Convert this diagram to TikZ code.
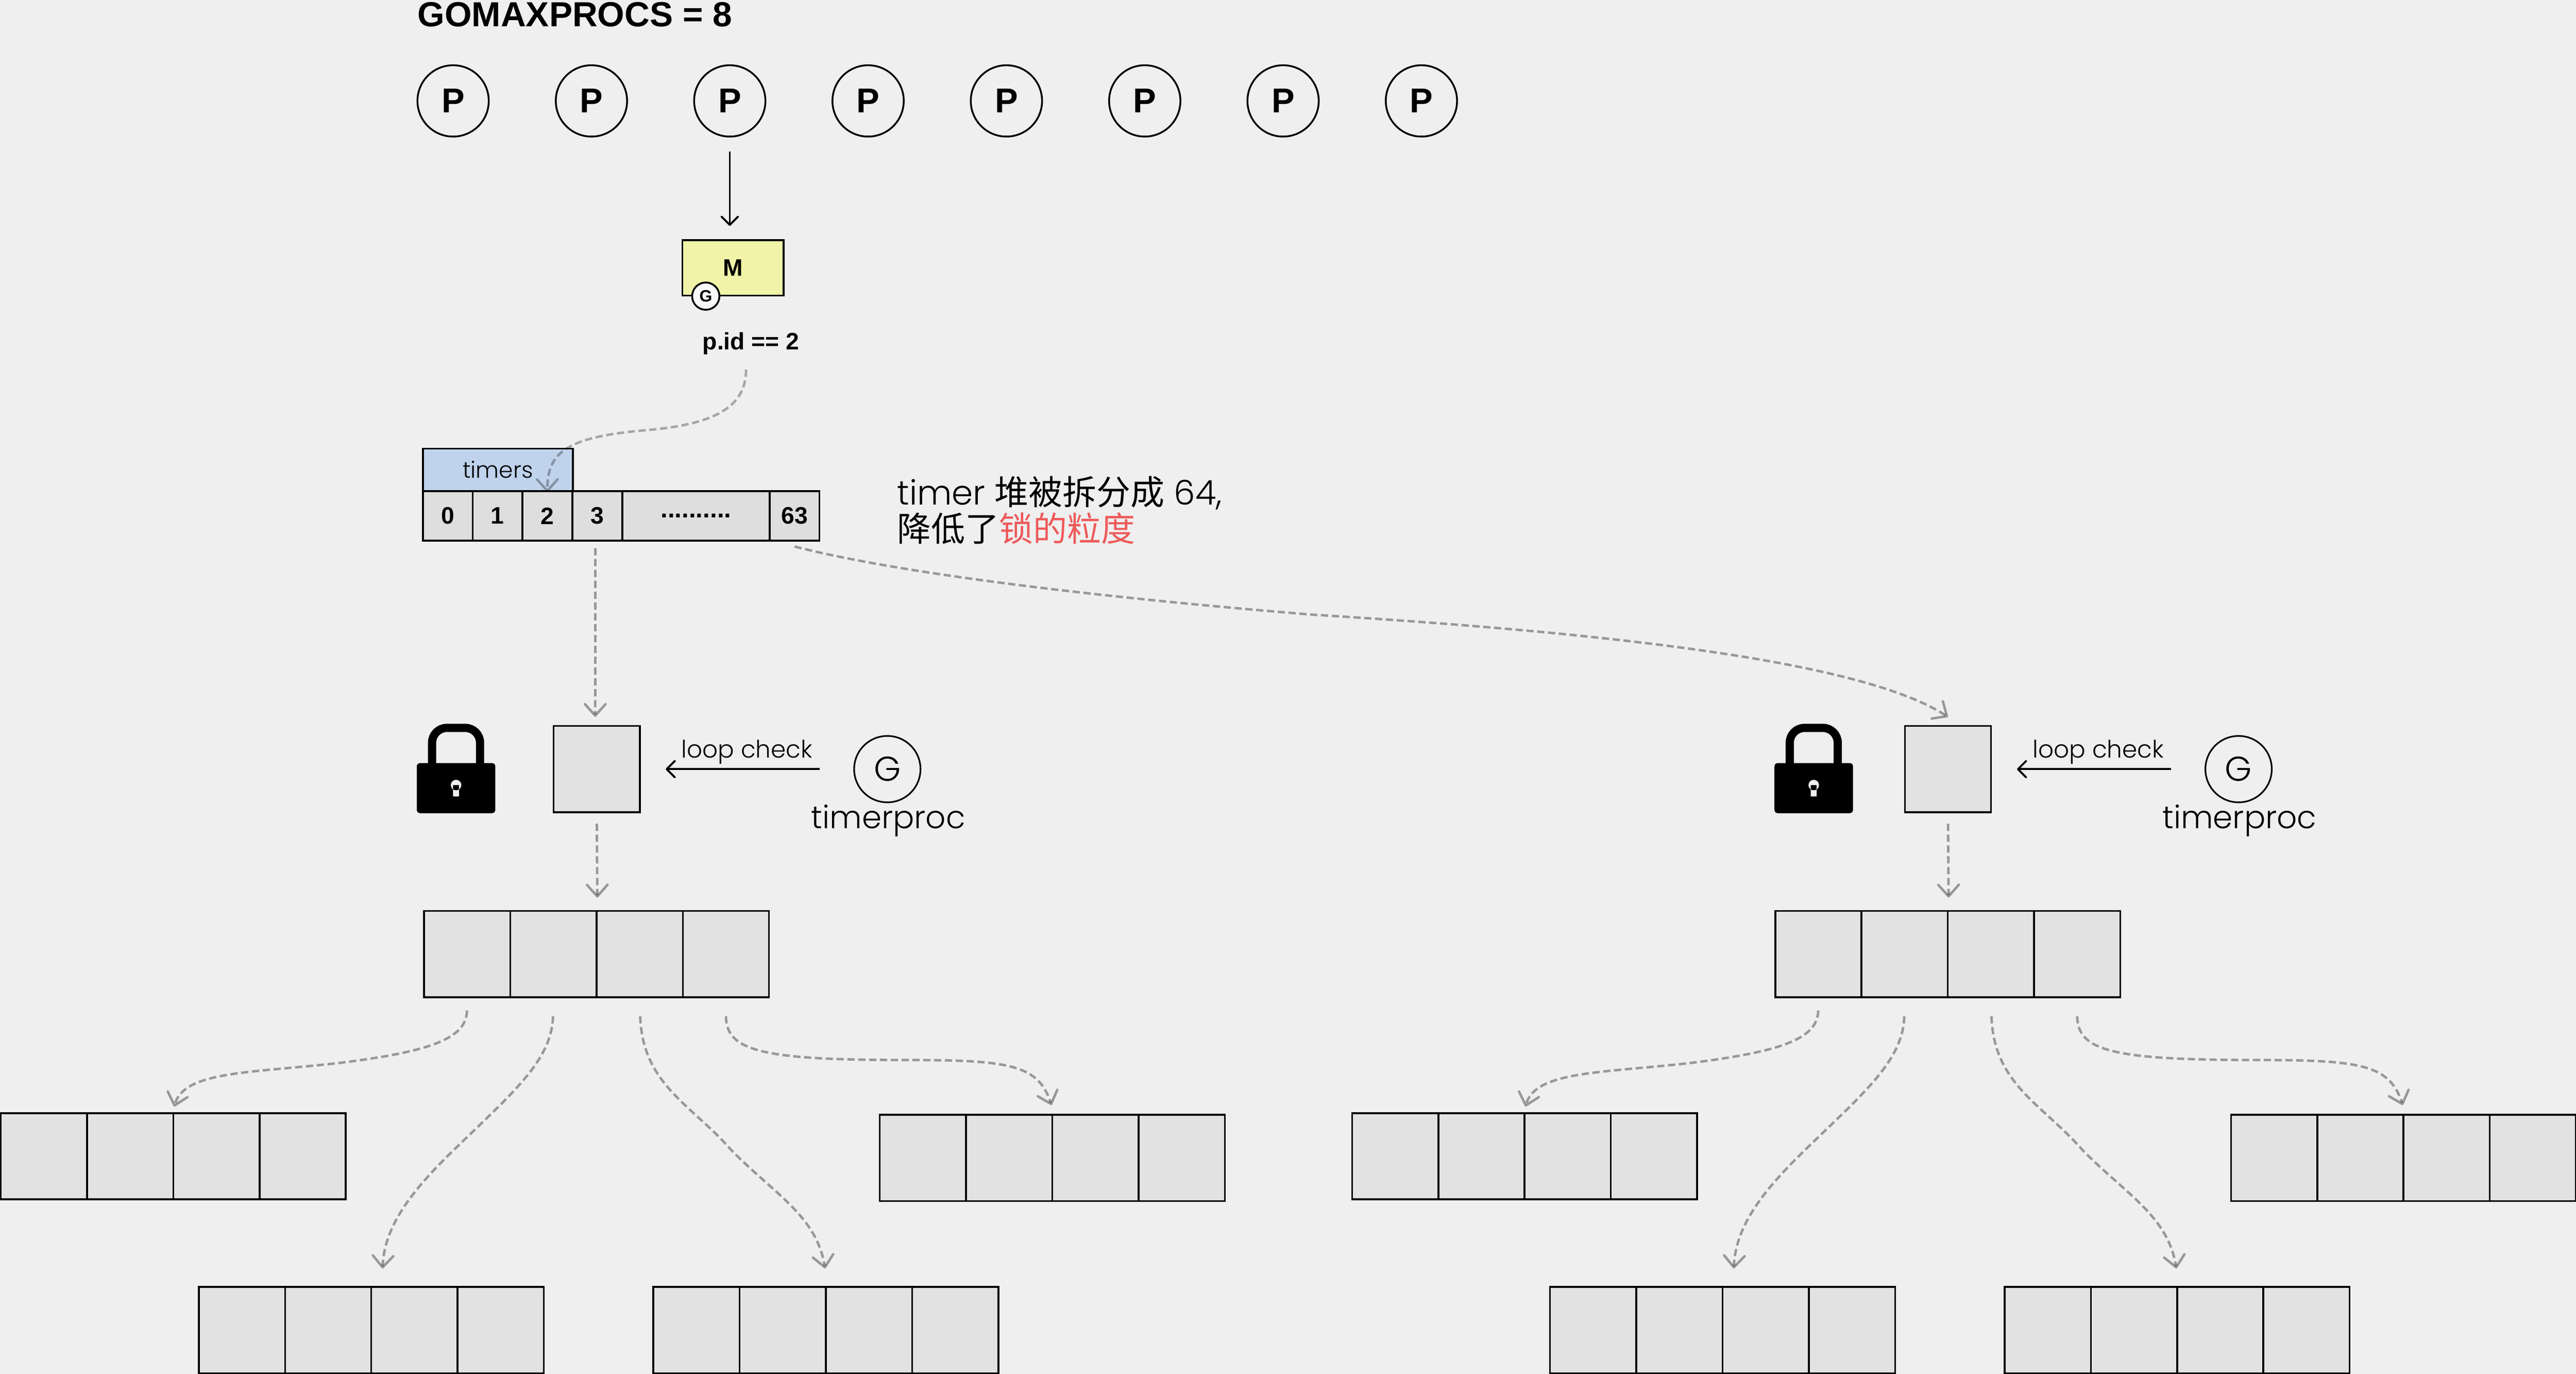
\documentclass[tikz,border=0pt]{standalone}
\usepackage{fontspec}
\setmainfont{Liberation Sans}
\newfontfamily\lightfont[UprightFont=* Light]{Poppins}
\newfontfamily\cjk{Noto Sans CJK SC}
\usepackage{xcolor}
\usetikzlibrary{
    calc,
    arrows.meta
}
\definecolor{pagebg}{HTML}{EFEFEF}
\definecolor{mfill}{HTML}{F0F3A8}
\definecolor{timersfill}{HTML}{C0D3EC}
\definecolor{idxfill}{HTML}{DEDEDE}
\definecolor{heapfill}{HTML}{E2E2E2}
\definecolor{lockred}{HTML}{EE5A5A}
\tikzset{
    pnode/.style={draw,circle,line width=1.1pt,minimum size=43.4pt,inner sep=0pt,font=\bfseries\fontsize{21}{21}\selectfont},
    gnode/.style={draw,circle,line width=1pt,minimum size=40.4pt,inner sep=0pt,font=\lightfont\fontsize{21}{21}\selectfont},
    smallg/.style={draw,circle,line width=1.1pt,fill=white!60!pagebg,minimum size=16.6pt,inner sep=0pt,font=\bfseries\fontsize{10}{10}\selectfont},
    idxcell/.style={draw,line width=1.1pt,fill=idxfill,minimum height=30.2pt,inner sep=0pt,font=\bfseries\fontsize{14.5}{14.5}\selectfont},
    heapcell/.style={draw,line width=1.1pt,fill=heapfill,minimum size=52.5pt,inner sep=0pt},
    flowline/.style={line width=1.2pt,-{Straight Barb[length=5pt,width=10pt,round]}},
    dashflow/.style={line width=1.5pt,draw=black,draw opacity=.36,dash pattern=on 4.4pt off 2.2pt,-{Straight Barb[length=7pt,width=12.5pt,round]}}
}

\begin{document}
\begin{tikzpicture}[x=1pt,y=-1pt]
    \fill[pagebg] (0,0) rectangle (1568,836);
    \useasboundingbox (0,0) rectangle (1568,836);

    \node[anchor=base west,inner sep=0pt,font=\bfseries\fontsize{21.2}{21}\selectfont] (title) at (254,16.1) {GOMAXPROCS = 8};
    \foreach \i in {0,...,7}
        \node[pnode] (p\i) at ({275.8+84.2*\i},61.4) {P};

    \node[draw,line width=1.1pt,fill=mfill,minimum width=61.6pt,minimum height=33.6pt,inner sep=0pt,font=\bfseries\fontsize{14.5}{14.5}\selectfont] (mbox) at (446.2,163) {M};
    \node[smallg] (mg) at (429.6,180.2) {G};
    \node[anchor=base west,inner sep=0pt,font=\bfseries\fontsize{14.5}{14.5}\selectfont] (pid) at (427.5,212.7) {p.id == 2};
    \draw[flowline,shorten <=8.6pt,shorten >=8.2pt] (p2.south) -- (p2.south |- mbox.north);

    % timers and its buckets
    \node[draw,line width=1.1pt,fill=timersfill,minimum width=91.3pt,minimum height=25.8pt,inner sep=0pt,font=\lightfont\fontsize{13.8}{14}\selectfont] (timers) at (303.05,285.9) {\raisebox{0.5pt}{timers}};
    \foreach \name/\lab/\cx/\cw in {idx0/0/272.55/30.3, idx1/1/302.85/30.3, idx2/2/333.2/30.4, idx3/3/363.6/30.4, idxd/{}/423.65/89.7, idx63/63/483.65/30.3}
        \node[idxcell,minimum width=\cw pt] (\name) at (\cx,313.9) {\lab};
    \node[anchor=base,inner sep=0pt,font=\bfseries\fontsize{15.5}{15.5}\selectfont] (idxdots) at (423.65,315) {..........};

    \node[anchor=west,inner sep=0pt,align=left,font=\lightfont\fontsize{20.7}{22.3}\selectfont] (note) at (546,310.5) {timer {\cjk 堆被拆分成} 64,\\{\cjk 降低了\textcolor{lockred}{锁的粒度}}};

    \foreach \side/\dx/\lockx in {l/0/277.6, r/822.5/1104} {
        % lock
        \fill (\lockx-23.9,464.3) [rounded corners=2pt] rectangle (\lockx+23.9,494.8);
        \draw[line width=5pt,rounded corners=9pt] (\lockx-14.6,466) -- (\lockx-14.6,442.9) -- (\lockx+14.6,442.9) -- (\lockx+14.6,466);
        \fill[pagebg] (\lockx,477.7) circle (3.2) (\lockx-1.8,477.7) rectangle (\lockx+1.8,484.6);

        \begin{scope}[shift={(\dx,0)}]
            \node[heapcell] (\side box) at (363.2,468) {};
            \node[gnode] (\side g) at (540.1,468) {G};
            \node[inner sep=0pt,font=\lightfont\fontsize{19.2}{21}\selectfont] (\side tp) at (540.7,499.5) {timerproc};
            \draw[flowline,shorten <=20.4pt,shorten >=15.2pt] (\side g.west) to node[above=-1pt,font=\lightfont\fontsize{14.7}{16}\selectfont]{loop check} (\side box.east);

            \foreach \row/\rx/\ry in {m/258.1/554.3, a/0.5/677.3, b/535.5/678.3, c/121/783, d/397.7/783}
                \foreach \i in {1,...,4}
                    \node[heapcell] (\side\row\i) at ({\rx+52.5*(\i-0.5)},{\ry+26.25}) {};

            \draw[dashflow,shorten <=6.4pt,shorten >=7.6pt] (\side box.south) -- (\side m2.north east);
            \draw[dashflow,shorten <=7.5pt] (\side m1.south) .. controls (284,632) and (262,640) .. (204.7,647) .. controls (150,653) and (112,652) .. ([yshift=3.4pt]\side a2.north east);
            \draw[dashflow,shorten <=11pt] (\side m2.south) .. controls (336,645) and (312,665) .. (278,698) .. controls (252,723) and (234,745) .. ([xshift=6.3pt,yshift=10.6pt]\side c2.north east);
            \draw[dashflow,shorten <=11pt] (\side m3.south) .. controls (391,660) and (421,672) .. (445.3,700) .. controls (472,727) and (497,740) .. ([xshift=-1pt,yshift=10.6pt]\side d2.north east);
            \draw[dashflow,shorten <=11pt] (\side m4.south) .. controls (442,640) and (465,645) .. (553,645) .. controls (615,645) and (632,648) .. ([xshift=-1pt,yshift=5.3pt]\side b2.north east);
        \end{scope}
    }

    \draw[dashflow,draw opacity=.3,shorten >=-1.2pt] ([xshift=-3pt,yshift=-9pt]pid.south) .. controls (454,245) and (440,258) .. (392.6,261.8) .. controls (345,266) and (333,275) .. (idx2.north);
    \draw[dashflow,shorten <=4pt,shorten >=5pt] ([xshift=-1.2pt]idx3.south) -- ([xshift=-0.9pt]lbox.north);
    \draw[dashflow] ([yshift=-3pt]idx63.south) .. controls (560,352) and (700,366) .. (798.8,374) .. controls (960,384) and (1130,400) .. ([yshift=5pt]rbox.north);
\end{tikzpicture}
\end{document}
